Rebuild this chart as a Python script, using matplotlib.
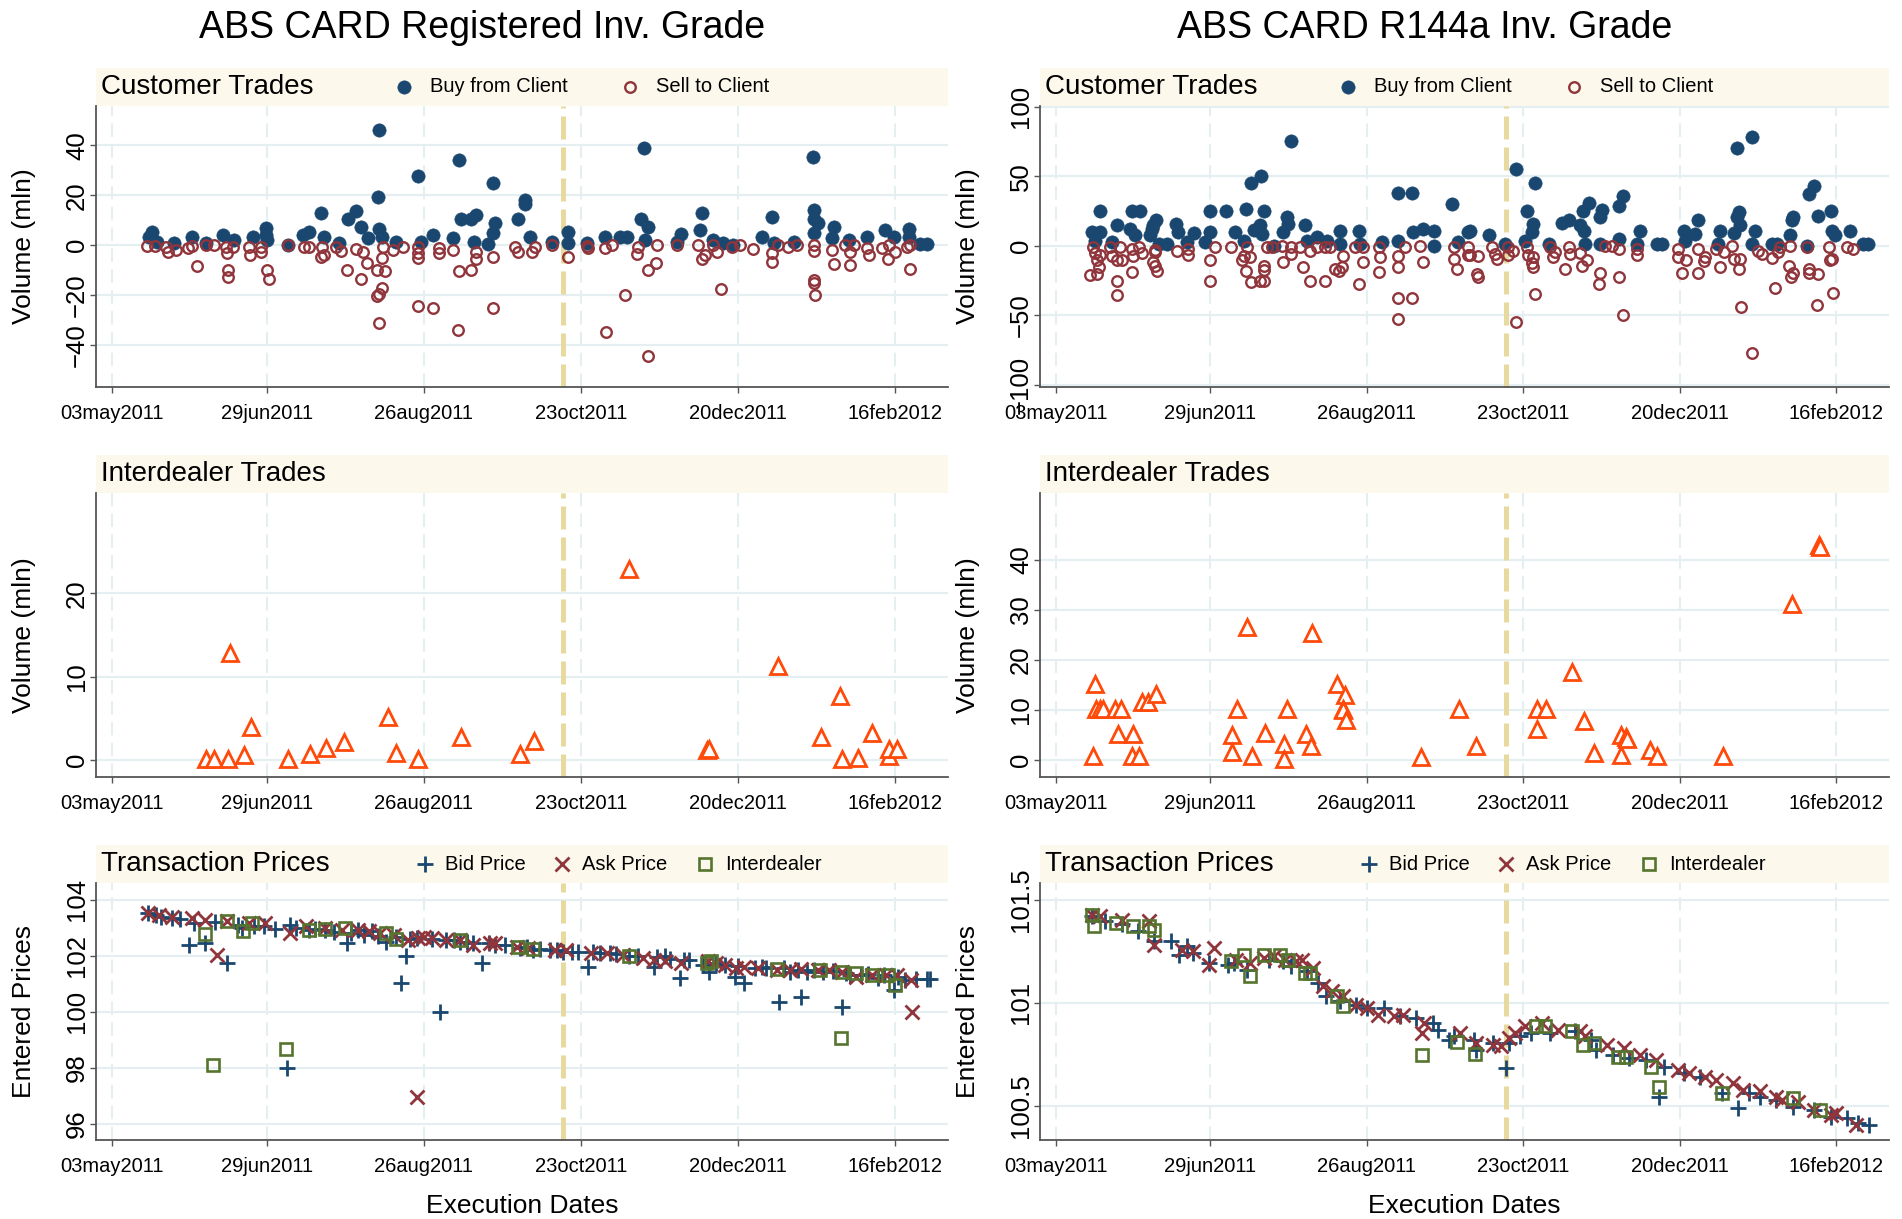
import numpy as np
import matplotlib.pyplot as plt
from matplotlib.lines import Line2D
from matplotlib.patches import Rectangle

plt.rcParams['font.family'] = ['Liberation Sans', 'DejaVu Sans']

# x values are days since 03may2011
tick_days = [0, 57, 115, 173, 231, 289]
tick_labels = ['03may2011', '29jun2011', '26aug2011', '23oct2011', '20dec2011', '16feb2012']
event_day = 166.5

col_titles = ['ABS CARD Registered Inv. Grade', 'ABS CARD R144a Inv. Grade']

# customer trades, registered: (day, volume)
reg_buy = [(13.6, 3.5), (14.8, 5.5), (16.7, 1.5), (22.8, 0.8), (29.6, 3.2), (34.5, 0.8), (40.7, 4.1),
           (45.0, 2.1), (51.8, 3.5), (56.7, 6.8), (56.7, 4.1), (57.3, 2.1), (64.7, 0.0), (70.3, 4.1),
           (72.7, 5.5), (77.0, 12.8), (78.3, 3.5), (83.8, 0.8), (86.9, 10.4), (90.0, 13.9), (91.8, 7.2),
           (94.3, 2.8), (98.0, 19.5), (98.6, 46.1), (98.6, 6.4), (99.6, 3.5), (104.7, 1.5), (112.7, 27.7),
           (114.0, 1.5), (118.3, 4.1), (125.7, 2.8), (127.9, 34.1), (128.8, 10.4), (132.4, 10.4),
           (134.3, 12.1), (133.7, 1.5), (138.6, 0.5), (140.4, 25.1), (141.1, 9.1), (140.4, 4.8),
           (149.7, 10.4), (152.3, 18.1), (152.3, 16.5), (154.2, 3.5), (162.2, 1.5), (168.4, 5.5),
           (168.4, 0.8), (175.1, 0.8), (181.9, 3.5), (187.4, 3.5), (189.9, 3.5), (195.1, 10.4),
           (196.1, 38.8), (197.9, 7.2), (196.7, 2.1), (208.4, 1.5), (209.9, 4.5), (217.6, 12.8),
           (217.0, 6.1), (221.9, 2.1), (225.6, 0.8), (229.3, 0.1), (239.8, 3.2), (243.7, 11.2),
           (244.1, 0.8), (251.5, 1.5), (258.6, 35.2), (258.9, 14.1), (258.9, 10.4), (260.5, 8.8),
           (258.9, 4.8), (266.3, 7.5), (265.6, 2.8), (271.8, 2.1), (278.6, 3.5), (285.4, 6.1),
           (288.4, 3.5), (294.0, 6.4), (294.0, 3.5), (298.3, 0.5), (300.7, 0.5)]
reg_sell = [(13.0, -0.3), (15.8, -0.3), (19.8, -0.5), (20.4, -2.5), (23.5, -1.9), (27.8, -1.2), (29.6, -0.1),
            (31.2, -8.3), (34.5, 0), (37.6, 0), (41.9, -0.5), (42.2, -2.9), (42.9, -9.9), (42.9, -12.5),
            (44.4, -0.5), (50.5, -0.5), (50.8, -3.9), (54.9, -0.5), (54.9, -2.5), (57.0, -9.9), (57.9, -13.6),
            (64.7, 0), (70.9, -0.5), (72.7, -0.5), (77.6, -0.5), (77.0, -4.8), (78.3, -3.9), (82.6, -0.5),
            (84.4, -2.1), (86.5, -9.9), (90.0, -1.6), (91.8, -13.5), (92.4, -2.5), (93.9, -6.9), (97.6, -9.9),
            (100.8, -10.1), (99.6, -4.9), (99.6, -16.9), (98.3, -19.6), (97.6, -20.3), (98.6, -30.9),
            (99.8, -0.5), (103.5, -1.9), (107.2, -0.5), (112.7, -0.5), (112.7, -3.2), (112.7, -5.2),
            (112.7, -24.1), (118.5, -24.9), (120.7, -3.2), (120.7, -1.2), (125.7, -1.9), (128.1, -10.1),
            (127.5, -33.9), (132.4, -9.9), (134.3, -5.6), (134.3, -2.5), (140.4, -4.8), (140.4, -24.9),
            (148.5, -0.5), (149.7, -2.5), (154.8, -2.5), (156.0, -0.5), (162.2, 0), (168.4, -4.8),
            (175.1, -0.3), (175.7, -1.2), (181.9, -1.2), (184.4, 0), (182.2, -34.8), (189.3, -19.9),
            (194.2, -0.5), (193.8, -3.5), (197.9, -9.9), (200.7, -6.9), (201.0, 0), (197.9, -44.1),
            (208.4, 0), (216.4, 0), (217.6, -5.6), (218.8, -4.0), (221.9, 0), (223.2, -2.5), (224.8, -17.6),
            (228.7, -0.5), (231.8, 0), (236.7, -1.3), (243.7, -3.2), (243.7, -6.5), (245.9, 0), (249.6, -0.5),
            (252.7, 0), (258.9, 0), (258.9, -2.3), (259.1, -13.9), (258.9, -15.2), (259.5, -19.7),
            (265.6, -1.9), (266.5, -7.5), (270.6, 0), (272.2, -7.9), (272.2, -2.5), (273.7, 0), (279.2, -3.9),
            (278.6, -1.2), (284.1, -1.2), (286.3, -5.6), (286.6, 0), (289.0, -2.5), (293.4, -0.5),
            (294.6, 0), (294.3, -9.5)]

# customer trades, R144a
r144_buy = [(13.2, 9.9), (16.3, 9.9), (16.3, 25), (14.4, 3.8), (22.5, 15.1), (20.6, 2.6), (28.0, 25),
            (31.1, 25), (27.4, 12.3), (29.3, 7.5), (35.4, 12.3), (37.0, 18.8), (36.0, 14.7), (34.8, 7.5),
            (37.9, 1.4), (41.0, 1.4), (44.3, 15.9), (45.3, 9.9), (48.4, 2.6), (51.2, 9.4), (55.2, 2.6),
            (57.0, 25), (57.0, 9.9), (63.0, 25), (66.3, 9.9), (70.2, 26.7), (72.1, 45.2), (75.8, 50.2),
            (77.0, 25), (73.1, 11.1), (75.6, 14.7), (76.2, 8.7), (69.6, 3.8), (80.5, 0.2), (85.4, 20.7),
            (86.0, 15.4), (84.2, 9.9), (86.9, 75), (92.2, 15.1), (92.8, 3.8), (96.5, 6.3), (100.2, 3.8),
            (105.0, 10.6), (105.2, 1.4), (112.0, 10.6), (112.6, 1.4), (120.6, 2.6), (126.8, 38),
            (131.7, 38), (126.8, 3.8), (132.3, 9.9), (136.0, 12.3), (140.0, 10.6), (140.0, 0.2),
            (146.8, 29.8), (149.0, 2.6), (152.7, 9.9), (153.4, 10.6), (160.4, 7.5), (166.3, 1.4),
            (170.4, 55), (177.2, 45.2), (174.3, 25), (176.8, 15.4), (176.2, 9.9), (173.7, 3.8), (182.4, 1.4),
            (187.3, 16.3), (190.0, 18.3), (194.1, 14.7), (195.7, 10.6), (195.3, 25), (197.4, 30.8),
            (201.5, 20.7), (202.1, 26), (195.9, 1.4), (201.5, 1.4), (208.3, 28.4), (210.1, 35.6),
            (208.3, 5), (216.3, 10.3), (215.1, 1.4), (222.5, 1), (224.3, 1), (232.4, 10.6), (233.0, 3.8),
            (237.9, 18.8), (236.7, 8.7), (245.9, 10.3), (245.3, 1.4), (252.1, 70.4), (257.9, 77.9),
            (253.0, 24.3), (252.1, 20.7), (253.4, 14.7), (250.9, 9.1), (258.9, 10.3), (257.7, 1.4),
            (265.1, 1), (266.9, 1.4), (271.9, 7.5), (273.1, 20.7), (272.5, 18.3), (278.7, 37.5),
            (280.9, 42.8), (282.1, 21.2), (278.0, 0.2), (287.1, 25), (287.3, 10.6), (288.5, 7.5),
            (294.1, 10.3), (299.0, 1), (300.9, 1)]
r144_sell = [(12.6, -20.7), (15.1, -20.2), (13.8, -1), (14.4, -5.3), (15.1, -10.1), (16.3, -6.3), (15.7, -15.4),
             (20.0, -1), (20.6, -7), (22.5, -10.1), (22.5, -25.5), (22.5, -35.1), (23.7, -1), (24.3, -10.1),
             (28.0, -2.2), (28.0, -18.5), (28.6, -7), (30.5, -1), (31.7, -5.3), (36.7, -4.6), (36.0, -11.8),
             (36.7, -14.2), (37.3, -18.3), (36.7, -2.9), (44.9, -3.4), (49.0, -2.2), (49.0, -6.3),
             (57.0, -10.1), (57.0, -25), (58.9, -1), (64.7, -1), (68.8, -10.1), (69.6, -7), (70.6, -1),
             (70.2, -18.3), (71.8, -7.7), (72.1, -26.2), (75.6, -25), (77.0, -25), (77.0, -14.2),
             (77.0, -17.3), (78.0, -1), (79.9, -1), (84.0, -11.8), (83.6, 0), (86.9, -5.8), (86.9, -1),
             (90.4, -1), (91.6, -14.9), (94.1, -25), (94.1, -3.4), (96.5, -1), (99.6, -25), (99.6, -1),
             (101.5, -1), (103.3, -16.6), (104.9, -17.8), (106.4, -7), (105.8, -14.9), (110.7, -1),
             (112.0, -27.4), (113.8, -11.8), (113.8, -1), (119.4, -1), (120.0, -8.2), (119.7, -18.5),
             (126.8, -7), (126.8, -14.9), (126.8, -37.5), (126.8, -52.6), (129.3, -1), (131.7, -37.5),
             (134.8, 0), (135.8, -11.8), (147.2, -1), (147.2, -9.4), (148.4, -16.6), (152.7, -1),
             (152.7, -6.3), (153.4, -6.3), (156.4, -7), (155.8, -20.2), (156.4, -22.6), (161.4, -1),
             (162.6, -5.8), (163.2, -9.4), (167.3, -1), (167.5, -6.3), (169.4, -3.4), (170.4, -55),
             (174.3, -1), (174.9, -6.3), (176.8, -7.7), (176.2, -12.5), (176.8, -15.4), (177.4, -34.6),
             (183.0, -1), (184.2, -8.2), (184.8, -4.6), (188.5, -16.6), (190.4, -5.8), (189.8, -1),
             (194.1, -5.3), (194.7, -14.2), (196.6, -10.1), (201.5, -19.7), (200.9, -27.4), (203.4, 0),
             (205.8, 0), (208.3, -2.2), (208.3, -22.1), (210.1, -49.5), (215.1, -2.2), (215.1, -6.3),
             (230.5, -2.2), (230.5, -8.2), (231.7, -19.7), (233.2, -10.1), (237.9, -2.2), (237.9, -19.7),
             (239.8, -10.6), (240.4, -7.7), (244.3, -2.2), (245.9, -14.9), (247.2, -4.6), (250.3, 0),
             (250.9, -9.4), (253.4, -9.4), (253.0, -16.6), (253.7, -44.2), (257.9, -76.7), (260.1, -3.4),
             (261.4, -5.8), (265.1, -8.7), (266.1, -30.3), (267.5, -4.6), (268.2, -1), (271.3, -14.2),
             (272.2, -22.6), (273.1, -19.7), (271.9, 0), (278.0, -1), (278.7, -16.6), (278.7, -19.7),
             (282.1, -20.2), (281.7, -42.3), (286.1, -1), (286.7, -10.1), (287.5, -9.4), (287.9, -34.1),
             (292.9, -1), (295.3, -2.2)]

# interdealer trades: (day, volume)
reg_inter = [(34.6, 0.2), (37.7, 0.1), (42.9, 0.2), (43.6, 12.9), (48.5, 0.6), (51.2, 4.0), (64.8, 0.1),
             (72.9, 0.8), (79.0, 1.5), (85.7, 2.2), (101.7, 5.2), (104.8, 0.9), (112.7, 0.1), (128.7, 2.8),
             (150.6, 0.7), (155.7, 2.3), (190.9, 22.9), (219.7, 1.2), (220.2, 1.4), (245.6, 11.3),
             (261.8, 2.8), (268.8, 7.7), (269.5, 0.2), (275.3, 0.3), (280.6, 3.3), (286.6, 0.5),
             (286.8, 1.4), (289.5, 1.4)]
r144_inter = [(13.8, 0.8), (14.5, 15.3), (14.9, 10.3), (16.1, 10.3), (17.2, 10.3), (21.7, 10.3), (24.0, 10.3),
              (22.8, 5.3), (28.5, 5.3), (28.0, 0.8), (30.7, 0.8), (31.9, 11.7), (34.1, 11.7), (36.8, 13.3),
              (65.1, 5.0), (65.3, 1.7), (66.9, 10.3), (70.7, 26.7), (72.5, 0.8), (77.5, 5.5), (84.5, 3.3),
              (84.5, 0.3), (85.6, 10.3), (92.4, 5.3), (94.4, 2.8), (94.7, 25.5), (104.1, 15.3), (106.9, 13.1),
              (106.4, 10.3), (106.4, 10.0), (107.5, 8.1), (135.3, 0.7), (149.3, 10.3), (155.4, 2.8),
              (178.2, 6.3), (178.2, 10.3), (181.6, 10.3), (191.1, 17.7), (195.6, 7.9), (199.4, 1.5),
              (209.1, 1.0), (209.1, 5.0), (210.9, 4.7), (211.4, 4.3), (220.0, 2.0), (222.7, 0.8),
              (247.1, 0.8), (272.4, 31.3), (282.6, 43.1), (283.0, 42.7)]

# transaction prices: (day, price)
reg_bid = [(13.1, 103.52), (16.1, 103.46), (18, 103.4), (22.2, 103.35), (25, 103.3), (28.3, 102.39),
           (30.3, 103.17), (34.3, 102.45), (38, 103.2), (42.4, 101.76), (46.4, 103.10), (48, 103.0),
           (52.5, 103.05), (56, 103.05), (60, 102.95), (64.6, 98.01), (65.6, 103.11), (68, 103.0),
           (72.7, 102.93), (75, 102.95), (78.7, 102.93), (82, 102.85), (86.8, 102.45), (88, 102.8),
           (90.8, 102.93), (93, 102.75), (95.9, 102.87), (98, 102.7), (100.9, 102.51), (104.6, 102.69),
           (106.6, 101.02), (108.6, 102.00), (110, 102.6), (112.6, 102.63), (118, 102.6), (121.1, 100.01),
           (123.1, 102.57), (126, 102.55), (128.2, 102.51), (131, 102.5), (133.2, 102.45), (136.5, 101.74),
           (139, 102.45), (141.3, 102.39), (145, 102.4), (150.4, 102.27), (153, 102.3), (155.4, 102.21),
           (158, 102.25), (161.5, 102.21), (164, 102.2), (166.5, 102.15), (169.6, 102.15), (172, 102.15),
           (175.6, 101.60), (177.6, 102.15), (180, 102.1), (183.7, 102.10), (186, 102.05), (190.8, 101.98),
           (194, 102.0), (199.8, 101.60), (201, 101.95), (203.9, 101.98), (206, 101.9), (209.5, 101.20),
           (210.9, 101.86), (213, 101.85), (218.0, 101.68), (220.4, 101.44), (223, 101.75), (226.1, 101.68),
           (229.7, 101.26), (231, 101.65), (233.1, 101.02), (237.2, 101.56), (240, 101.6), (241.2, 101.56),
           (246.3, 100.37), (248, 101.55), (250.3, 101.44), (253, 101.5), (254.3, 100.52), (256.4, 101.44),
           (259, 101.5), (262.4, 101.44), (266, 101.45), (269.5, 100.17), (271, 101.4), (272.5, 101.32),
           (276.5, 101.32), (279, 101.35), (282.6, 101.20), (285, 101.3), (288.7, 100.79), (290, 101.25),
           (292.7, 101.14), (296.7, 101.17), (300.8, 101.17), (301.8, 101.17)]
reg_ask = [(13.1, 103.52), (17.2, 103.46), (22.2, 103.40), (29.3, 103.35), (34.3, 103.29), (38.8, 102.04),
           (42.4, 103.23), (50.5, 103.17), (56.5, 103.17), (65.6, 102.81), (71.7, 103.05), (78.7, 102.99),
           (84.8, 102.93), (90.8, 102.93), (94.9, 102.87), (98.9, 102.81), (104.0, 102.75), (109.0, 102.57),
           (112.6, 96.98), (113.0, 102.63), (115.1, 102.69), (118.1, 102.63), (123.1, 102.57), (128.2, 102.57),
           (133.2, 102.39), (139.3, 102.45), (141.3, 102.45), (149.4, 102.33), (153.4, 102.27), (163.5, 102.21),
           (167.5, 102.21), (176.6, 102.10), (182.7, 102.10), (188.7, 102.04), (195.8, 101.92), (199.8, 101.86),
           (203.9, 101.80), (209.9, 101.74), (220.0, 101.80), (223.0, 101.74), (226.1, 101.68), (230.1, 101.56),
           (233.1, 101.60), (238.2, 101.56), (245.3, 101.50), (250.3, 101.50), (254.3, 101.52), (260.4, 101.48),
           (264.4, 101.48), (269.5, 101.44), (274.5, 101.26), (280.6, 101.32), (285.6, 101.32), (289.7, 101.32),
           (294.7, 101.14), (295.3, 100.00)]
reg_idp = [(34.3, 102.79), (37.3, 98.11), (42.4, 103.23), (48.4, 102.87), (51.5, 103.17), (64.2, 98.67),
           (72.7, 102.93), (78.7, 102.95), (85.8, 102.99), (100.9, 102.81), (104.6, 102.60), (128.2, 102.57),
           (149.8, 102.33), (155.4, 102.24), (190.8, 102.00), (219.6, 101.74), (221.0, 101.80), (245.3, 101.52),
           (261.4, 101.50), (268.9, 99.06), (269.5, 101.44), (274.5, 101.38), (280.6, 101.32), (286.2, 101.32),
           (289.1, 100.96)]

r144_bid = [(13.1, 101.419), (18.2, 101.395), (24.3, 101.379), (30.3, 101.346), (36.4, 101.298), (42.4, 101.298),
            (45.5, 101.233), (48.5, 101.273), (50.5, 101.241), (56.6, 101.193), (63.7, 101.184), (65.7, 101.193),
            (70.7, 101.16), (78.8, 101.209), (83.9, 101.201), (86.9, 101.176), (93.0, 101.152), (97.0, 101.095),
            (100.0, 101.031), (105.1, 101.006), (111.2, 100.99), (115.2, 100.974), (121.3, 100.974),
            (127.3, 100.934), (133.4, 100.926), (139.5, 100.901), (141.5, 100.869), (145.5, 100.82),
            (147.5, 100.837), (154.6, 100.82), (155.6, 100.772), (161.7, 100.804), (166.7, 100.683),
            (167.7, 100.804), (171.8, 100.837), (175.8, 100.853), (182.9, 100.853), (192.0, 100.861),
            (198.1, 100.82), (200.1, 100.772), (206.1, 100.748), (212.2, 100.731), (218.3, 100.723),
            (223.3, 100.545), (225.3, 100.691), (232.4, 100.659), (238.5, 100.642), (246.6, 100.561),
            (252.6, 100.489), (256.7, 100.561), (260.7, 100.545), (266.8, 100.529), (272.8, 100.497),
            (280.9, 100.481), (287.0, 100.448), (293.0, 100.44), (297.1, 100.416), (301.1, 100.408)]
r144_ask = [(13.1, 101.427), (16.2, 101.419), (24.3, 101.403), (34.4, 101.395), (36.4, 101.282), (46.5, 101.257),
            (50.5, 101.249), (56.6, 101.184), (58.6, 101.265), (66.7, 101.209), (71.7, 101.193), (76.8, 101.217),
            (80.8, 101.225), (84.9, 101.209), (88.9, 101.201), (90.9, 101.209), (95.0, 101.168), (99.0, 101.079),
            (102.1, 101.055), (106.1, 101.031), (111.2, 100.99), (115.2, 100.974), (119.2, 100.942),
            (125.3, 100.934), (128.3, 100.942), (135.4, 100.853), (136.4, 100.901), (149.6, 100.853),
            (155.6, 100.804), (161.7, 100.796), (164.7, 100.788), (167.7, 100.828), (169.8, 100.853),
            (173.8, 100.885), (179.9, 100.901), (185.9, 100.869), (194.0, 100.861), (196.0, 100.837),
            (204.1, 100.796), (210.2, 100.78), (216.3, 100.748), (222.3, 100.723), (230.4, 100.675),
            (234.4, 100.659), (240.5, 100.642), (244.5, 100.626), (250.6, 100.61), (254.6, 100.578),
            (260.7, 100.57), (266.8, 100.545), (268.8, 100.529), (274.9, 100.521), (280.9, 100.481),
            (287.0, 100.456), (289.0, 100.464), (296.1, 100.408)]
r144_idp = [(13.1, 101.427), (14.1, 101.371), (22.2, 101.387), (28.3, 101.371), (34.4, 101.371), (36.4, 101.354),
            (64.7, 101.201), (69.7, 101.233), (71.7, 101.128), (76.8, 101.233), (82.9, 101.233), (85.9, 101.209),
            (92.0, 101.144), (94.0, 101.144), (104.1, 101.031), (106.1, 100.982), (135.4, 100.748),
            (148.5, 100.812), (155.0, 100.752), (177.8, 100.885), (180.9, 100.885), (191.0, 100.861),
            (195.0, 100.796), (199.1, 100.804), (208.2, 100.739), (211.2, 100.739), (220.3, 100.691),
            (223.3, 100.594), (246.6, 100.561), (272.8, 100.537), (282.9, 100.481)]

NAVY = '#1a476f'
MAROON = '#90353b'
GREEN = '#55752f'
ORANGE = '#ff4a0a'
BAND = '#fcf8ec'
GRID = '#e5eef0'
SAND = '#e8d99f'
AXIS = '#555555'

BUY = dict(marker='o', ms=9.6, mfc=NAVY, mec=NAVY, mew=0.4)
SELL = dict(marker='o', ms=7.6, mfc='none', mec=MAROON, mew=1.7)
TRI = dict(marker='^', ms=11, mfc='white', mec=ORANGE, mew=2.0)
BID = dict(marker='+', ms=12, mec=NAVY, mew=2.0)
ASK = dict(marker='x', ms=10, mec=MAROON, mew=2.0)
IDP = dict(marker='s', ms=8, mfc='none', mec=GREEN, mew=1.9)

W, H = 1902, 1219
fig = plt.figure(figsize=(W / 100, H / 100), dpi=100)

cols = [(96, 852), (1040, 849)]
rows = [(106, 387), (493, 777), (883, 1140)]
band_h = 38


def make_ax(c, r):
    x0, w = cols[c]
    top, bot = rows[r]
    return fig.add_axes([x0 / W, 1 - bot / H, w / W, (bot - top) / H])


def style(ax, ylim, yticks, ylabel):
    ax.set_xlim(-6, 308.5)
    ax.set_ylim(*ylim)
    ax.set_xticks(tick_days, tick_labels)
    ax.set_yticks(yticks)
    for s in ['top', 'right']:
        ax.spines[s].set_visible(False)
    for s in ['left', 'bottom']:
        ax.spines[s].set_color(AXIS)
        ax.spines[s].set_linewidth(1.3)
    ax.tick_params(axis='x', labelsize=14.5, length=4, width=1, color=AXIS, pad=8)
    ax.tick_params(axis='y', labelsize=18.5, length=4, width=1, color=AXIS, pad=1, labelrotation=90)
    for lab in ax.get_yticklabels():
        lab.set_va('center')
    for y in yticks:
        ax.axhline(y, color=GRID, lw=1.6, zorder=0.5)
    for d in tick_days:
        ax.axvline(d, color=GRID, lw=1.5, dashes=(6.5, 3.5), zorder=0.5)
    ax.axvline(event_day, color=SAND, lw=3.6, dashes=(4.6, 1.6), zorder=1)
    ax.set_ylabel(ylabel, fontsize=19)
    ax.yaxis.label.set_va('center')
    ax.yaxis.set_label_coords(-72 / (ax.get_position().width * W), 0.5)


def band(ax, title, entries, text_gap):
    pos = ax.get_position()
    h = band_h / H
    fig.add_artist(Rectangle((pos.x0, pos.y1), pos.width, h, transform=fig.transFigure,
                             facecolor=BAND, edgecolor='none', zorder=0))
    yc = pos.y1 + h / 2
    fig.text(pos.x0 + 5 / W, yc, title, fontsize=20, ha='left', va='center')
    for off, mk, label in entries:
        fig.add_artist(Line2D([pos.x0 + off / W], [yc], transform=fig.transFigure,
                              linestyle='none', **mk))
        fig.text(pos.x0 + (off + text_gap) / W, yc, label, fontsize=14.5, ha='left', va='center')


def plot_pts(ax, pts, mk):
    d, v = np.array(pts).T
    ax.plot(d, v, linestyle='none', zorder=3, **mk)


cust_entries = [(308, BUY, 'Buy from Client'), (534, SELL, 'Sell to Client')]
price_entries = [(329, BID, 'Bid Price'), (466, ASK, 'Ask Price'), (609, IDP, 'Interdealer')]

panels = [
    (reg_buy, reg_sell, reg_inter, reg_bid, reg_ask, reg_idp,
     (-56.7, 55.7), [-40, -20, 0, 20, 40], (-2.0, 32.0), [0, 10, 20],
     (95.43, 104.6), [96, 98, 100, 102, 104], ['96', '98', '100', '102', '104']),
    (r144_buy, r144_sell, r144_inter, r144_bid, r144_ask, r144_idp,
     (-101.5, 100.5), [-100, -50, 0, 50, 100], (-3.4, 53.4), [0, 10, 20, 30, 40],
     (100.335, 101.58), [100.5, 101, 101.5], ['100.5', '101', '101.5']),
]

for c, (buy, sell, inter, bid, ask, idp, ylim1, yt1, ylim2, yt2, ylim3, yt3, ytl3) in enumerate(panels):
    ax1 = make_ax(c, 0)
    style(ax1, ylim1, yt1, 'Volume (mln)')
    plot_pts(ax1, buy, BUY)
    plot_pts(ax1, sell, SELL)
    band(ax1, 'Customer Trades', cust_entries, 26)

    ax2 = make_ax(c, 1)
    style(ax2, ylim2, yt2, 'Volume (mln)')
    plot_pts(ax2, inter, TRI)
    band(ax2, 'Interdealer Trades', [], 0)

    ax3 = make_ax(c, 2)
    style(ax3, ylim3, yt3, 'Entered Prices')
    ax3.set_yticklabels(ytl3)
    for lab in ax3.get_yticklabels():
        lab.set_va('center')
    plot_pts(ax3, bid, BID)
    plot_pts(ax3, ask, ASK)
    plot_pts(ax3, idp, IDP)
    band(ax3, 'Transaction Prices', price_entries, 20)
    ax3.set_xlabel('Execution Dates', fontsize=19)
    ax3.xaxis.label.set_va('center')
    ax3.xaxis.set_label_coords(0.5, -66 / 257)

    x0, w = cols[c]
    fig.text((x0 + w / 2 - 40) / W, 1 - 28 / H, col_titles[c], fontsize=27, ha='center', va='center')

fig.savefig('out.png', dpi=100)
